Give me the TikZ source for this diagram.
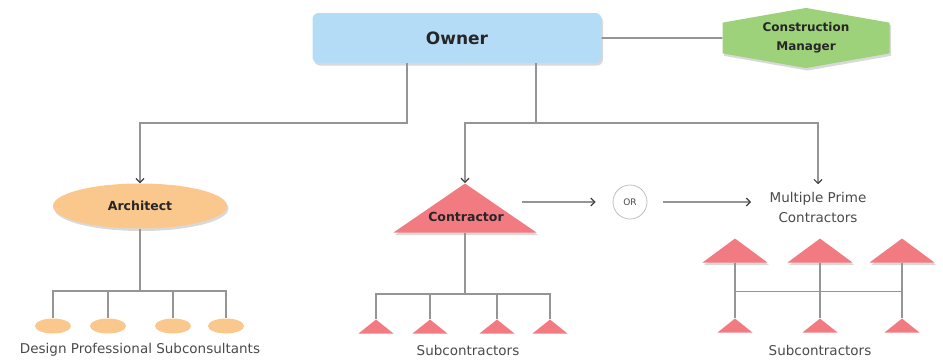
\documentclass[tikz,border=0pt]{standalone}
\usepackage{fontspec}
\setmainfont{DejaVu Sans}
\usetikzlibrary{arrows.meta,positioning,calc,shapes.geometric,shapes.symbols,shadows}

\definecolor{ownerblue}{HTML}{B5DCF7}
\definecolor{managergreen}{HTML}{9ED27A}
\definecolor{architectpeach}{HTML}{FAC88D}
\definecolor{contractorred}{HTML}{F27B82}
\definecolor{linegray}{HTML}{959595}
\definecolor{textgray}{HTML}{4A4A4A}

\begin{document}
\begin{tikzpicture}[
  x=1pt,y=-1pt,
  >={Straight Barb[length=4pt,width=8pt,line width=1.2pt,color=black!75]},
  softshadow/.style={drop shadow={opacity=0.3,shadow xshift=1.5pt,shadow yshift=-2.5pt}},
  owner/.style={rectangle,rounded corners=6pt,fill=ownerblue,
    minimum width=289pt,minimum height=50pt,text=black!85,
    font=\fontsize{17}{20}\selectfont\bfseries,softshadow},
  manager/.style={signal,signal to=north and south,signal pointer angle=160,
    fill=managergreen,minimum width=167pt,minimum height=40pt,inner sep=0pt,
    align=center,text=black!85,font=\fontsize{12}{19}\selectfont\bfseries,softshadow},
  architect/.style={ellipse,fill=architectpeach,minimum width=174pt,
    minimum height=45pt,text=black!85,font=\fontsize{12.5}{15}\selectfont\bfseries,softshadow},
  consultant/.style={ellipse,fill=architectpeach,minimum width=36pt,
    minimum height=15pt,inner sep=0pt},
  wedge/.style={isosceles triangle,isosceles triangle stretches,
    shape border rotate=90,fill=contractorred,inner sep=0pt},
  bigwedge/.style={wedge,minimum width=143pt,minimum height=49pt,softshadow},
  primewedge/.style={wedge,minimum width=65pt,minimum height=24pt,softshadow},
  subwedge/.style={wedge,minimum width=35pt,minimum height=14pt},
  boldlabel/.style={text=black!85,font=\fontsize{12.5}{15}\selectfont\bfseries},
  plainlabel/.style={text=textgray,align=center,font=\fontsize{13.5}{20}\selectfont},
  choice/.style={circle,draw=black!25,line width=0.8pt,minimum size=34pt,
    inner sep=0pt,text=textgray,font=\fontsize{9}{10}\selectfont},
  link/.style={draw=linegray,line width=1.6pt}
]
\useasboundingbox (0,0) rectangle (943,360);

% top level
\node[owner] (owner) at (457,38) {Owner};
\node[manager] (manager) at (806,38) {Construction\\Manager};
\draw[link] (owner) -- (manager);

% design side
\node[architect] (architect) at (140,206) {Architect};
\foreach \i/\x in {1/53,2/108,3/173,4/226}
  \node[consultant] (consultant\i) at (\x,326) {};
\node[plainlabel] (consultants) at (140,350) {Design Professional Subconsultants};

% single contractor
\node[bigwedge,anchor=apex] (contractor) at (465,183) {};
\node[boldlabel] (contractortext) at (466,217) {Contractor};
\foreach \i/\x in {1/376,2/430,3/497,4/550}
  \node[subwedge,anchor=apex] (sub\i) at (\x,319) {};
\node[plainlabel] (subcontractors) at (468,350) {Subcontractors};

\node[choice] (or) at (630,202) {OR};

% multiple primes
\node[plainlabel] (primes) at (818,207) {Multiple Prime\\Contractors};
\foreach \i/\x in {1/735,2/820,3/902}{
  \node[primewedge,anchor=apex] (prime\i) at (\x,238) {};
  \node[subwedge,anchor=apex] (primesub\i) at (\x,318) {};
}
\node[plainlabel] (primesubs) at (820,350) {Subcontractors};

% owner links
\draw[link,->] ([xshift=-50pt]owner.south) -- ++(0,60) -| (architect.north);
\draw[link] ([xshift=79pt]owner.south) -- ++(0,60) coordinate (split);
\draw[link,->] (split) -| (contractor.apex);
\draw[link,->,shorten >=4pt] (split) -| (primes.north);

% alternatives
\draw[link,->,shorten >=17pt] (contractor.apex |- or) ++(57,0) -- (or);
\draw[link,->,shorten <=16pt,shorten >=15pt] (or) -- (primes.west |- or);

% trees
\draw[link] (architect.south) -- ++(0,62) coordinate (archsplit);
\foreach \i in {1,...,4}
  \draw[link] (archsplit) -| (consultant\i.north);
\draw[link] (contractor.south) -- ++(0,61) coordinate (contsplit);
\foreach \i in {1,...,4}
  \draw[link] (contsplit) -| (sub\i.apex);
\foreach \i in {1,2,3}
  \draw[link] (prime\i.south) -- (primesub\i.apex);
\draw[link] ($(prime1.south)!0.52!(primesub1.apex)$)
  -- ($(prime3.south)!0.52!(primesub3.apex)$);
\end{tikzpicture}
\end{document}
